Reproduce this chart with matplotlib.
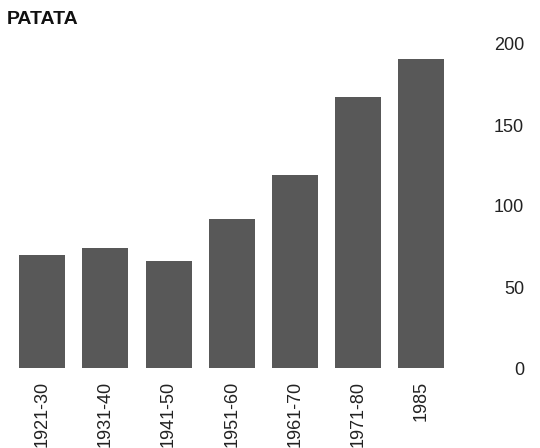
import matplotlib.pyplot as plt

plt.rcParams['font.family'] = ['Liberation Sans', 'DejaVu Sans']

periods = ['1921-30', '1931-40', '1941-50', '1951-60', '1961-70', '1971-80', '1985']
values = [70, 74, 66, 92, 119, 167, 191]
yticks = [0, 50, 100, 150, 200]

fig = plt.figure(figsize=(5.40, 4.48), dpi=100)
ax = fig.add_axes([10/540, 80/448, 460/540, 324/448])

x = range(len(periods))
ax.bar(x, values, width=0.73, color='#585858')

ax.set_xlim(-0.51, 6.77)
ax.set_ylim(0, 200)

for s in ax.spines.values():
    s.set_visible(False)

ax.set_xticks(list(x))
ax.set_xticklabels(periods, rotation=90, fontsize=13, color='#222222')
ax.tick_params(axis='x', length=0, pad=9)

ax.yaxis.tick_right()
ax.set_yticks(yticks)
ax.set_yticklabels([str(t) for t in yticks], fontsize=13, color='#222222')
ax.tick_params(axis='y', length=0, pad=39)
for lab in ax.get_yticklabels():
    lab.set_horizontalalignment('right')

fig.text(7/540, 1 - 19/448, 'PATATA', fontsize=14, fontweight='bold',
         va='center', ha='left', color='#111111')

fig.savefig('out.png', dpi=100)
